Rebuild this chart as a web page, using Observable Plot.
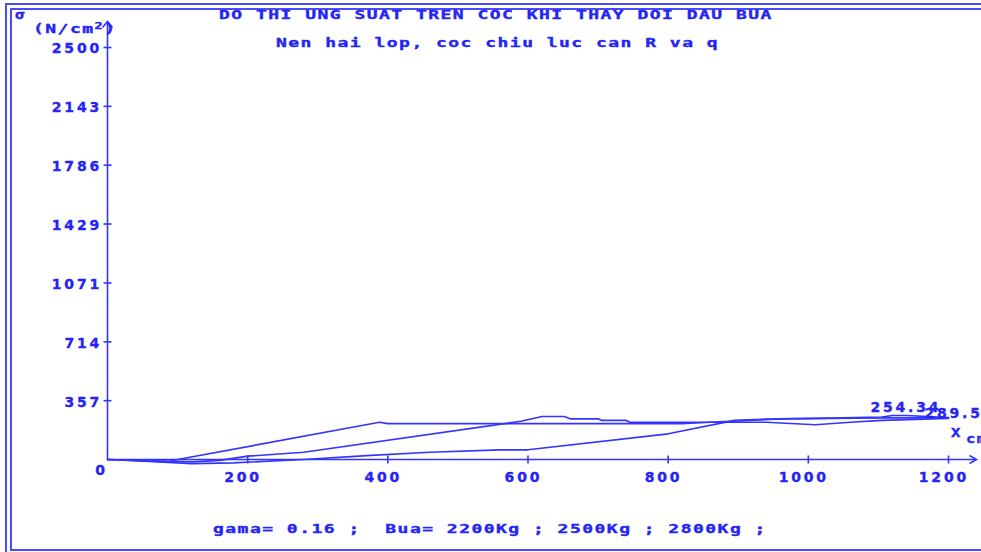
<!DOCTYPE html>
<html>
<head>
<meta charset="utf-8">
<script src="https://cdn.jsdelivr.net/npm/d3@7"></script>
<script src="https://cdn.jsdelivr.net/npm/@observablehq/plot@0.6"></script>
<style>
  html, body { margin: 0; padding: 0; background: #fff; }
  #wrap { position: relative; width: 981px; height: 552px; overflow: hidden; background: #fff; }
  #chart { position: absolute; left: 0; top: 0; }
  #chart svg text { letter-spacing: 2.8px; }
  .bgi { position: absolute; font-family: 'DejaVu Sans Mono', monospace; font-weight: bold;
         font-size: 12px; line-height: 12px; letter-spacing: 0.98px; white-space: pre;
         transform: scaleX(1.5); transform-origin: 0 0; color: #2424f5;
         -webkit-text-stroke: 0.35px #2424f5; }
  .box { position: absolute; border: 2px solid #4a4aff; box-sizing: border-box; }
</style>
</head>
<body>
<div id="wrap">
  <div class="box" style="left:5px; top:3px; width:1100px; height:700px;"></div>
  <div class="box" style="left:10px; top:8px; width:1100px; height:543px;"></div>
  <div id="chart"></div>
  <div class="bgi" style="left:219px; top:9px;">DO THI UNG SUAT TREN COC KHI THAY DOI DAU BUA</div>
  <div class="bgi" style="left:276px; top:37px;">Nen hai lop, coc chiu luc can R va q</div>
  <div class="bgi" style="left:213px; top:523px;">gama= 0.16 ;  Bua= 2200Kg ; 2500Kg ; 2800Kg ;</div>
  <div class="bgi" style="left:15px; top:8px; font-family:'DejaVu Sans',sans-serif; font-size:13px; line-height:13px; transform:none;">σ</div>
  <div class="bgi" style="left:33px; top:23px;">(N/cm<span style="font-size:9px; position:relative; top:-4px;">2</span>)</div>
  <div class="bgi" style="left:951px; top:427px; transform:scaleX(1.3);">X</div>
  <div class="bgi" style="left:966px; top:433px; transform:scaleX(1.3);">cm</div>
</div>
<script>
// ---- data ----
const seriesNames = ["2200Kg", "2500Kg", "2800Kg"];

// series 2800Kg (fastest rising front)
const xS1 = [0, 40, 85, 100, 388, 400, 820, 860, 960, 1030, 1105, 1120, 1140, 1200];
const yS1 = [0, -6, -15, 0, 226, 218, 218, 226, 247, 251, 257, 267, 267, 254.34];

// series 2500Kg
const xS2 = [0, 70, 120, 160, 200, 280, 590, 620, 652, 660, 700, 705, 740, 745, 786, 940, 1010, 1060, 1105, 1200];
const yS2 = [0, -8, -15, -5, 20, 44, 232, 261, 261, 247, 247, 237, 237, 226, 226, 226, 211, 226, 237, 250];

// series 2200Kg (slowest)
const xS3 = [0, 60, 120, 180, 280, 370, 460, 560, 600, 800, 895, 960, 1030, 1105, 1200];
const yS3 = [0, -12, -25, -20, 0, 24, 44, 59, 59, 156, 237, 247, 250, 252, 252];

const xTicks = [200, 400, 600, 800, 1000, 1200];
const xTickLabels = ["200", "400", "600", "800", "1000", "1200"];
const yTicks = [357, 714, 1071, 1429, 1786, 2143, 2500];
const yTickLabels = ["357", "714", "1071", "1429", "1786", "2143", "2500"];
const originLabel = "0";
const xAxisEnd = 1240;   // axis arrow extent (cm)
const yAxisEnd = 2658;   // axis arrow extent (N/cm2)

const endLabelSeries = ["2800Kg", "2500Kg"];
const endLabelTexts = ["254.34", "289.5"];

// ---- build table ----
const seriesX = [xS3, xS2, xS1];
const seriesY = [yS3, yS2, yS1];
const rows = seriesNames.flatMap((name, k) =>
  seriesX[k].map((x, i) => ({series: name, x, y: seriesY[k][i]})));
const lastPoints = endLabelSeries.map((s, j) => {
  const k = seriesNames.indexOf(s);
  const n = seriesX[k].length - 1;
  return {series: s, text: endLabelTexts[j], x: seriesX[k][n], y: seriesY[k][n]};
});

const BLUE = "#3434ff";
const TEXT = "#2424f5";
const FONT = "'DejaVu Sans', sans-serif";
const txt = {fill: TEXT, stroke: TEXT, strokeWidth: 0.35, fontSize: 14, fontWeight: "bold", fontFamily: FONT};

const vTick = {draw(ctx) { ctx.moveTo(0, -4); ctx.lineTo(0, 4); }};
const hTick = {draw(ctx) { ctx.moveTo(-4, 0); ctx.lineTo(4, 0); }};
const arrowRight = {draw(ctx) { ctx.moveTo(-7, -4); ctx.lineTo(0, 0); ctx.lineTo(-7, 4); }};
const arrowUp = {draw(ctx) { ctx.moveTo(-5, 6); ctx.lineTo(0, 0); ctx.lineTo(5, 6); }};

const chart = Plot.plot({
  width: 981,
  height: 552,
  marginLeft: 107,
  marginRight: 33,
  marginTop: 47,
  marginBottom: 93,
  style: {background: "transparent", overflow: "visible", fontFamily: FONT},
  x: {domain: [0, 1200], axis: null},
  y: {domain: [0, 2500], axis: null},
  marks: [
    Plot.ruleY([0], {x1: 0, x2: xAxisEnd, stroke: BLUE, strokeWidth: 1.6}),
    Plot.ruleX([0], {y1: 0, y2: yAxisEnd, stroke: BLUE, strokeWidth: 1.6}),
    Plot.dot([xAxisEnd], {x: d => d, y: () => 0, symbol: arrowRight, fill: "none", stroke: BLUE, strokeWidth: 1.6}),
    Plot.dot([yAxisEnd], {x: () => 0, y: d => d, symbol: arrowUp, fill: "none", stroke: BLUE, strokeWidth: 1.6}),
    Plot.dot(xTicks, {x: d => d, y: () => 0, symbol: vTick, fill: "none", stroke: BLUE, strokeWidth: 1.6}),
    Plot.dot(yTicks, {x: () => 0, y: d => d, symbol: hTick, fill: "none", stroke: BLUE, strokeWidth: 1.6}),
    Plot.text(xTicks, {x: d => d, y: () => 0, text: (d, i) => xTickLabels[i], dx: -4.6, dy: 18,
      textAnchor: "middle", ...txt}),
    Plot.text(yTicks, {x: () => 0, y: d => d, text: (d, i) => yTickLabels[i], dx: -5.5, dy: 1.5,
      textAnchor: "end", ...txt}),
    Plot.text([0], {x: d => d, y: d => d, text: () => originLabel, dx: -6, dy: 11.5,
      textAnchor: "middle", ...txt}),
    Plot.line(rows, {x: "x", y: "y", z: "series", stroke: BLUE, strokeWidth: 1.7, curve: "linear"}),
    Plot.text(lastPoints.filter(d => d.series === endLabelSeries[0]),
      {x: "x", y: "y", text: "text", dx: -78, dy: -10, textAnchor: "start", ...txt}),
    Plot.text(lastPoints.filter(d => d.series === endLabelSeries[1]),
      {x: "x", y: "y", text: "text", dx: -24, dy: -5, textAnchor: "start", ...txt})
  ]
});
document.getElementById("chart").appendChild(chart);
</script>
</body>
</html>
